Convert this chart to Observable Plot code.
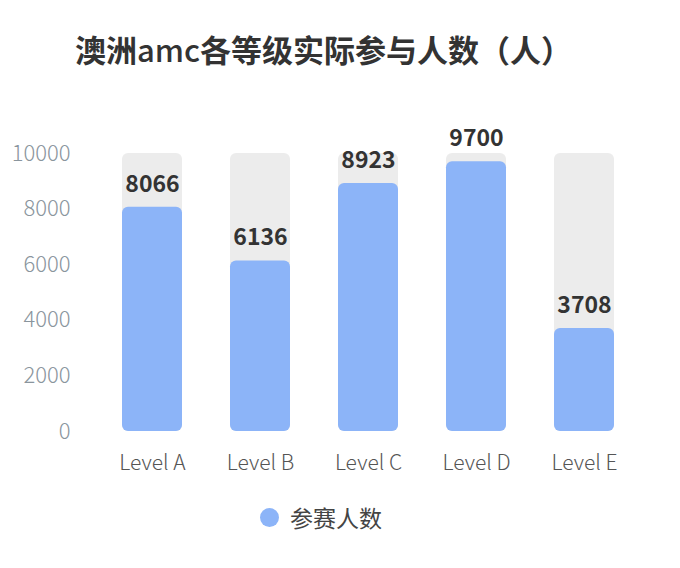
<!DOCTYPE html>
<html><head><meta charset="utf-8">
<script src="https://cdn.jsdelivr.net/npm/d3@7"></script>
<script src="https://cdn.jsdelivr.net/npm/@observablehq/plot@0.6"></script>
<style>
body{margin:0;background:#fff;font-family:"Noto Sans CJK SC","Noto Sans",sans-serif;}
#wrap{position:relative;width:680px;height:568px;overflow:hidden;}
#title{position:absolute;left:75px;top:29px;font-size:31px;font-weight:bold;color:#333;line-height:40px;white-space:nowrap;}
#title .lat{font-weight:500;}
#chart{position:absolute;left:0;top:100px;}
#legend{position:absolute;left:260px;top:502px;height:30px;display:flex;align-items:center;font-size:23px;color:#444;}
#legend .dot{width:19px;height:19px;border-radius:50%;background:#8cb4f8;margin-right:11px;}
</style></head>
<body><div id="wrap">
<div id="title">澳洲<span class="lat">amc</span>各等级实际参与人数（人）</div>
<div id="chart"></div>
<div id="legend"><span class="dot"></span><span>参赛人数</span></div>
</div>
<script>
const levels = ["Level A","Level B","Level C","Level D","Level E"];
const counts = [8066, 6136, 8923, 9700, 3708];
const maxValue = 10000;
const yTicks = [0, 2000, 4000, 6000, 8000, 10000];
const seriesName = "参赛人数";

const data = levels.map((l, i) => ({level: l, count: counts[i], max: maxValue}));

const chart = Plot.plot({
  width: 680,
  height: 400,
  marginLeft: 98,
  marginRight: 42,
  marginTop: 53,
  marginBottom: 69,
  style: {fontFamily: '"Noto Sans CJK SC","Noto Sans",sans-serif', background: "transparent"},
  x: {domain: levels, paddingInner: 0.444, paddingOuter: 0.222, label: null},
  y: {domain: [0, maxValue], label: null},
  marks: [
    Plot.axisY({ticks: yTicks, tickSize: 0, tickPadding: 28, fontSize: 22, fill: "#8a959d", label: null, tickFormat: d => String(d), fontWeight: 300}),
    Plot.axisX({tickSize: 0, tickPadding: 24, fontSize: 21, fill: "#555", label: null, fontWeight: 300}),
    Plot.barY(data, {x: "level", y: "max", fill: "#ececec", rx: 6}),
    Plot.barY(data, {x: "level", y: "count", fill: "#8cb4f8", rx: 6}),
    Plot.text(data, {x: "level", y: "count", text: d => String(d.count), dy: -23, fontSize: 23, fontWeight: "bold", fill: "#333"})
  ]
});
document.getElementById("chart").appendChild(chart);
</script>
</body></html>
